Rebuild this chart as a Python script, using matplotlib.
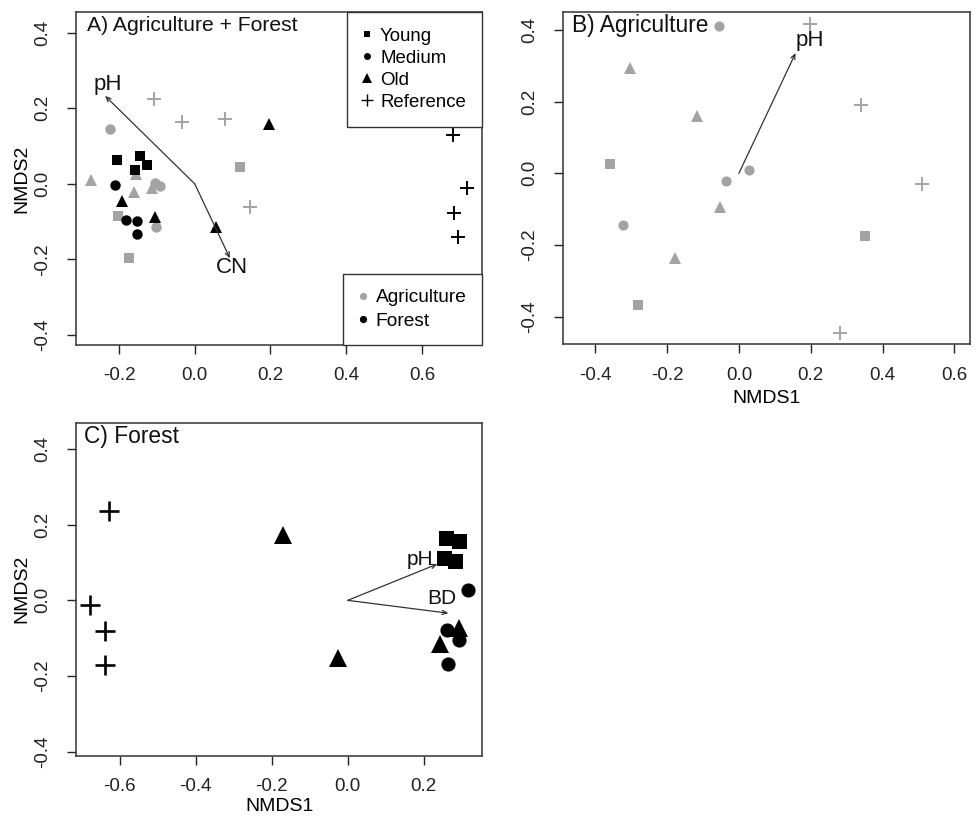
import matplotlib
matplotlib.use("Agg")
import matplotlib.pyplot as plt
from matplotlib.lines import Line2D

plt.rcParams['font.family'] = ['Liberation Sans', 'DejaVu Sans']

GRAY = '#A3A3A3'
BLACK = '#000000'

# ---------------- Panel A: Agriculture + Forest ----------------
a_agri_young_x = [0.120, -0.202, -0.173]
a_agri_young_y = [0.045, -0.085, -0.195]
a_agri_medium_x = [-0.224, -0.102, -0.105, -0.092]
a_agri_medium_y = [0.145, -0.114, 0.001, -0.006]
a_agri_old_x = [-0.274, -0.160, -0.114, -0.155]
a_agri_old_y = [0.010, -0.021, -0.012, 0.027]
a_agri_ref_x = [-0.107, -0.034, 0.080, 0.146]
a_agri_ref_y = [0.225, 0.163, 0.172, -0.062]

a_for_young_x = [-0.206, -0.145, -0.125, -0.158]
a_for_young_y = [0.064, 0.074, 0.051, 0.036]
a_for_medium_x = [-0.211, -0.182, -0.152, -0.153]
a_for_medium_y = [-0.002, -0.096, -0.098, -0.133]
a_for_old_x = [0.197, 0.056, -0.193, -0.105]
a_for_old_y = [0.158, -0.114, -0.046, -0.087]
a_for_ref_x = [0.683, 0.719, 0.686, 0.696]
a_for_ref_y = [0.129, -0.010, -0.078, -0.140]

a_vec_names = ['pH', 'CN']
a_vec_x = [-0.237, 0.093]
a_vec_y = [0.233, -0.197]
a_lab_x = [-0.23, 0.098]
a_lab_y = [0.262, -0.222]

# ---------------- Panel B: Agriculture ----------------
b_young_x = [-0.360, -0.281, 0.350]
b_young_y = [0.027, -0.366, -0.175]
b_medium_x = [-0.056, 0.027, -0.035, -0.323]
b_medium_y = [0.410, 0.010, -0.021, -0.143]
b_old_x = [-0.304, -0.117, -0.054, -0.177]
b_old_y = [0.295, 0.160, -0.094, -0.235]
b_ref_x = [0.197, 0.339, 0.511, 0.281]
b_ref_y = [0.418, 0.190, -0.031, -0.446]

b_vec_names = ['pH']
b_vec_x = [0.158]
b_vec_y = [0.336]
b_lab_x = [0.197]
b_lab_y = [0.371]

# ---------------- Panel C: Forest ----------------
c_young_x = [0.259, 0.294, 0.254, 0.282]
c_young_y = [0.165, 0.156, 0.112, 0.103]
c_medium_x = [0.316, 0.261, 0.294, 0.265]
c_medium_y = [0.028, -0.078, -0.104, -0.168]
c_old_x = [-0.171, -0.025, 0.294, 0.242]
c_old_y = [0.174, -0.152, -0.073, -0.115]
c_ref_x = [-0.627, -0.678, -0.639, -0.640]
c_ref_y = [0.235, -0.011, -0.080, -0.172]

c_vec_names = ['pH', 'BD']
c_vec_x = [0.236, 0.265]
c_vec_y = [0.096, -0.034]
c_lab_x = [0.189, 0.248]
c_lab_y = [0.108, 0.004]

age_labels = ['Young', 'Medium', 'Old', 'Reference']
land_labels = ['Agriculture', 'Forest']

W, H = 979, 816
fig = plt.figure(figsize=(W / 100, H / 100), dpi=100)


def axes_px(l, t, r, b):
    return fig.add_axes([l / W, 1 - b / H, (r - l) / W, (b - t) / H])


axA = axes_px(76, 11.7, 481.7, 345)
axB = axes_px(563.3, 12.3, 970, 344.3)
axC = axes_px(76, 422.7, 482.3, 755.7)

axA.set_xlim(-0.3136, 0.758)
axA.set_ylim(-0.4264, 0.4555)
axB.set_xlim(-0.4891, 0.6437)
axB.set_ylim(-0.477, 0.4494)
axC.set_xlim(-0.715, 0.354)
axC.set_ylim(-0.4106, 0.4695)

axA.set_xticks([-0.2, 0.0, 0.2, 0.4, 0.6])
axB.set_xticks([-0.4, -0.2, 0.0, 0.2, 0.4, 0.6])
axC.set_xticks([-0.6, -0.4, -0.2, 0.0, 0.2])

for ax in (axA, axB, axC):
    ax.set_yticks([-0.4, -0.2, 0.0, 0.2, 0.4])
    ax.set_xticklabels([f'{v:.1f}' for v in ax.get_xticks()])
    ax.set_yticklabels([f'{v:.1f}' for v in ax.get_yticks()], rotation=90, va='center')
    ax.tick_params(axis='both', direction='out', length=6.5, width=1.0, labelsize=13.5, colors='#222222')
    ax.tick_params(axis='x', pad=9.5)
    ax.tick_params(axis='y', pad=11.5)
    for s in ax.spines.values():
        s.set_linewidth(1.1)
        s.set_color('#333333')


def draw_set(ax, xs, ys, marker, color, ms, mew=1.4):
    ax.plot(xs, ys, linestyle='none', marker=marker, color=color, markersize=ms,
            markeredgewidth=mew if marker == '+' else 0, zorder=3)


def draw_vectors(ax, names, vx, vy, lx, ly, fs):
    for n, x, y, tx, ty in zip(names, vx, vy, lx, ly):
        ax.annotate('', xy=(x, y), xytext=(0, 0),
                    arrowprops=dict(arrowstyle='->,head_length=0.35,head_width=0.15',
                                    color='#333333', lw=0.9, shrinkA=0, shrinkB=0), zorder=4)
        ax.text(tx, ty, n, ha='center', va='center', fontsize=fs, color='#111111', zorder=5)


# Panel A
sizesA = dict(s=7.7, o=7.5, tri=8.8, p=10.5)
draw_set(axA, a_agri_young_x, a_agri_young_y, 's', GRAY, sizesA['s'])
draw_set(axA, a_agri_medium_x, a_agri_medium_y, 'o', GRAY, sizesA['o'])
draw_set(axA, a_agri_old_x, a_agri_old_y, '^', GRAY, sizesA['tri'])
draw_set(axA, a_agri_ref_x, a_agri_ref_y, '+', GRAY, sizesA['p'])
draw_set(axA, a_for_young_x, a_for_young_y, 's', BLACK, sizesA['s'])
draw_set(axA, a_for_medium_x, a_for_medium_y, 'o', BLACK, sizesA['o'])
draw_set(axA, a_for_old_x, a_for_old_y, '^', BLACK, sizesA['tri'])
draw_set(axA, a_for_ref_x, a_for_ref_y, '+', BLACK, sizesA['p'])
draw_vectors(axA, a_vec_names, a_vec_x, a_vec_y, a_lab_x, a_lab_y, 16)

# Panel B
draw_set(axB, b_young_x, b_young_y, 's', GRAY, 7.5)
draw_set(axB, b_medium_x, b_medium_y, 'o', GRAY, 7.3)
draw_set(axB, b_old_x, b_old_y, '^', GRAY, 8.6)
draw_set(axB, b_ref_x, b_ref_y, '+', GRAY, 10.5)
draw_vectors(axB, b_vec_names, b_vec_x, b_vec_y, b_lab_x, b_lab_y, 16)

# Panel C
draw_set(axC, c_young_x, c_young_y, 's', BLACK, 10.8)
draw_set(axC, c_medium_x, c_medium_y, 'o', BLACK, 10.2)
draw_set(axC, c_old_x, c_old_y, '^', BLACK, 13)
draw_set(axC, c_ref_x, c_ref_y, '+', BLACK, 14.5, mew=1.9)
draw_vectors(axC, c_vec_names, c_vec_x, c_vec_y, c_lab_x, c_lab_y, 15)

# Titles
for ax, title, dx, fs in ((axA, 'A) Agriculture + Forest', 11, 15.2),
                          (axB, 'B) Agriculture', 9, 16.4),
                          (axC, 'C) Forest', 8, 16.4)):
    ax.annotate(title, xy=(0, 1), xycoords='axes fraction', xytext=(dx, -13.5),
                textcoords='offset pixels', ha='left', va='center', fontsize=fs, color='#111111')

# Axis labels
axA.set_ylabel('NMDS2', fontsize=14, labelpad=2.5)
axC.set_ylabel('NMDS2', fontsize=14, labelpad=2.5)
axB.set_xlabel('NMDS1', fontsize=14, labelpad=4.5)
axC.set_xlabel('NMDS1', fontsize=14, labelpad=2.0)

# Legends in panel A
age_markers = ['s', 'o', '^', '+']
age_ms = [5.0, 5.0, 6.5, 8.5]
h_age = [Line2D([], [], linestyle='none', marker=m, color='black', markersize=s,
                markeredgewidth=1.0 if m == '+' else 0)
         for m, s in zip(age_markers, age_ms)]
leg1 = axA.legend(h_age, age_labels, loc='upper right', fontsize=13.4, frameon=True, fancybox=False,
                  borderaxespad=0, borderpad=0.85, labelspacing=0.27, handlelength=0.45,
                  handletextpad=0.45, edgecolor='#333333', framealpha=1)
leg1.get_frame().set_linewidth(1.0)
axA.add_artist(leg1)

h_land = [Line2D([], [], linestyle='none', marker='o', color=c, markersize=5.2, markeredgewidth=0)
          for c in (GRAY, BLACK)]
leg2 = axA.legend(h_land, land_labels, loc='lower right', fontsize=13.8, frameon=True, fancybox=False,
                  borderaxespad=0, borderpad=0.8, labelspacing=0.3, handlelength=0.45,
                  handletextpad=0.45, edgecolor='#333333', framealpha=1)
leg2.get_frame().set_linewidth(1.0)

fig.savefig('out.png', dpi=100)
